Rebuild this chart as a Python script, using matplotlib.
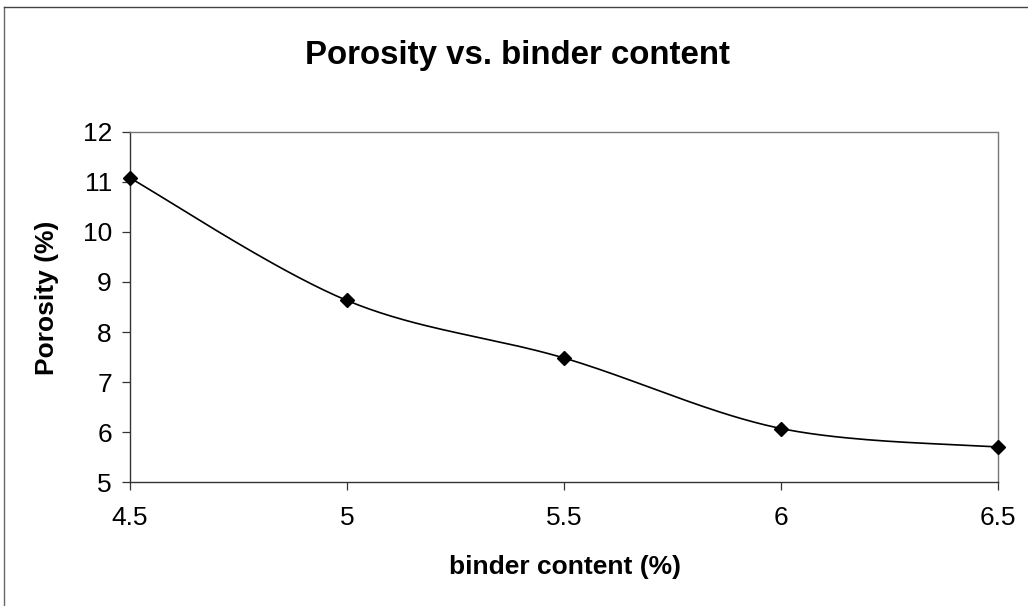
import numpy as np
import matplotlib
matplotlib.use("Agg")
import matplotlib.pyplot as plt
from matplotlib.lines import Line2D

# data
binder_content = [4.5, 5.0, 5.5, 6.0, 6.5]
porosity = [11.08, 8.63, 7.48, 6.07, 5.70]
x_ticks = [4.5, 5, 5.5, 6, 6.5]
x_tick_labels = ["4.5", "5", "5.5", "6", "6.5"]
y_ticks = [5, 6, 7, 8, 9, 10, 11, 12]


def smooth_curve(x, y, n=40):
    """Excel-like smoothed line (Catmull-Rom through the points)."""
    x = np.asarray(x, float)
    y = np.asarray(y, float)
    px = np.concatenate([[x[0]], x, [x[-1]]])
    py = np.concatenate([[y[0]], y, [y[-1]]])
    xs, ys = [], []
    t = np.linspace(0, 1, n)
    for i in range(1, len(px) - 2):
        p0, p1, p2, p3 = (np.array([px[j], py[j]]) for j in (i - 1, i, i + 1, i + 2))
        c1 = p1 + (p2 - p0) / 6
        c2 = p2 - (p3 - p1) / 6
        pts = ((1 - t) ** 3)[:, None] * p1 + (3 * (1 - t) ** 2 * t)[:, None] * c1 \
            + (3 * (1 - t) * t ** 2)[:, None] * c2 + (t ** 3)[:, None] * p2
        xs.extend(pts[:, 0])
        ys.extend(pts[:, 1])
    return np.array(xs), np.array(ys)


plt.rcParams["font.family"] = ["Liberation Sans", "DejaVu Sans"]

fig = plt.figure(figsize=(10.28, 6.06), dpi=100)
ax = fig.add_axes([0.1265, 0.2046, 0.8443, 0.5776])

sx, sy = smooth_curve(binder_content, porosity)
ax.plot(sx, sy, color="black", lw=1.2, zorder=3)
ax.plot(binder_content, porosity, linestyle="none", marker="D", color="black",
        markersize=7, zorder=4, clip_on=False)

ax.set_xlim(4.5, 6.5)
ax.set_ylim(5, 12)
ax.set_xticks(x_ticks)
ax.set_xticklabels(x_tick_labels)
ax.set_yticks(y_ticks)
ax.tick_params(axis="both", direction="out", length=6, width=0.9,
               labelsize=19, color="#333333")
ax.tick_params(axis="x", pad=11)
ax.tick_params(axis="y", pad=7)

for side in ("left", "bottom"):
    ax.spines[side].set_color("#333333")
    ax.spines[side].set_linewidth(1.0)
for side in ("top", "right"):
    ax.spines[side].set_color("#777777")
    ax.spines[side].set_linewidth(1.0)
    ax.spines[side].set_linestyle((0, (4, 1)))

fig.text(0.503, 0.909, "Porosity vs. binder content", ha="center", va="center",
         fontsize=23.8, fontweight="bold")
fig.text(0.55, 0.064, "binder content (%)", ha="center", va="center",
         fontsize=19, fontweight="bold")
fig.text(0.046, 0.508, "Porosity (%)", ha="center", va="center", rotation=90,
         fontsize=19, fontweight="bold")

# outer frame of the scanned chart (only top and left edges show)
fig.add_artist(Line2D([0.004, 0.004], [0.0, 0.988], transform=fig.transFigure,
                      color="#666666", lw=1.0))
fig.add_artist(Line2D([0.004, 1.0], [0.988, 0.988], transform=fig.transFigure,
                      color="#444444", lw=1.0))

fig.savefig("out.png", dpi=100)
